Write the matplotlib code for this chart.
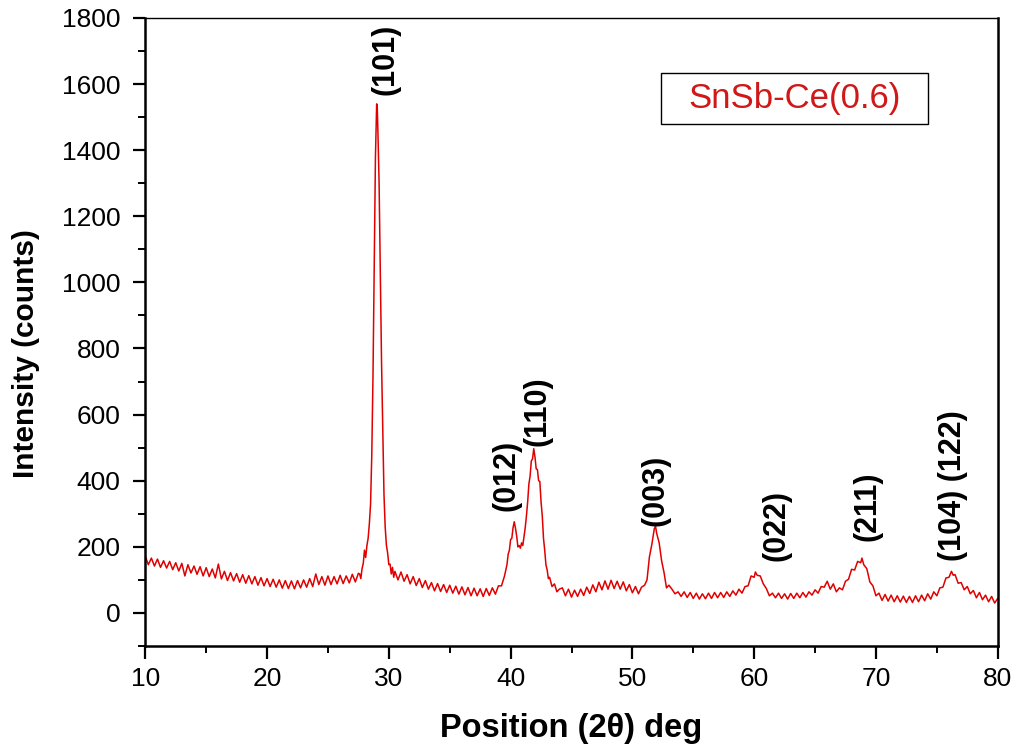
import numpy as np
import matplotlib.pyplot as plt
from matplotlib.patches import Rectangle
from matplotlib.ticker import MultipleLocator

plt.rcParams['font.family'] = ['Liberation Sans', 'DejaVu Sans']

# XRD pattern of SnSb-Ce(0.6), (2theta, counts) read in segments
bg_low = [(10.0, 172), (10.25, 146), (10.5, 166), (10.75, 142), (11.0, 163), (11.25, 138),
          (11.5, 158), (11.75, 136), (12.0, 156), (12.25, 131), (12.5, 152), (12.75, 127),
          (13.0, 150), (13.25, 112), (13.5, 146), (13.75, 121), (14.0, 142), (14.25, 117),
          (14.5, 140), (14.75, 112), (15.0, 137), (15.25, 110), (15.5, 133), (15.75, 106),
          (16.0, 148), (16.25, 103), (16.5, 126), (16.75, 98), (17.0, 122), (17.25, 97),
          (17.5, 119), (17.75, 93), (18.0, 116), (18.25, 90), (18.5, 113), (18.75, 88),
          (19.0, 110), (19.25, 84), (19.5, 107), (19.75, 82), (20.0, 104), (20.25, 80),
          (20.5, 102), (20.75, 78), (21.0, 100), (21.25, 75), (21.5, 98), (21.75, 74),
          (22.0, 97), (22.25, 73), (22.5, 98), (22.75, 76), (23.0, 100), (23.25, 78),
          (23.5, 104), (23.75, 80), (24.0, 118), (24.25, 86), (24.5, 110), (24.75, 84),
          (25.0, 112), (25.25, 86), (25.5, 110), (25.75, 88), (26.0, 114), (26.25, 89),
          (26.5, 112), (26.75, 91), (27.0, 117), (27.25, 94), (27.5, 120)]

peak_101 = [(27.6, 118), (27.7, 104), (27.8, 134), (27.9, 150), (28.0, 190), (28.1, 168),
            (28.2, 204), (28.3, 226), (28.4, 270), (28.5, 330), (28.6, 480), (28.7, 720),
            (28.8, 1060), (28.9, 1380), (29.0, 1540), (29.05, 1530), (29.1, 1460),
            (29.2, 1300), (29.3, 1040), (29.4, 760), (29.5, 560), (29.6, 360), (29.7, 260),
            (29.8, 205), (29.9, 182), (30.0, 146), (30.1, 148), (30.2, 118), (30.3, 138),
            (30.4, 108), (30.5, 126)]

bg_mid = [(30.75, 100), (31.0, 124), (31.25, 96), (31.5, 116), (31.75, 88), (32.0, 110),
          (32.25, 83), (32.5, 104), (32.75, 77), (33.0, 98), (33.25, 72), (33.5, 92),
          (33.75, 67), (34.0, 89), (34.25, 65), (34.5, 86), (34.75, 62), (35.0, 84),
          (35.25, 60), (35.5, 81), (35.75, 57), (36.0, 79), (36.25, 55), (36.5, 77),
          (36.75, 52), (37.0, 75), (37.25, 52), (37.5, 73), (37.75, 50), (38.0, 74),
          (38.25, 53), (38.5, 76), (38.75, 57), (39.0, 82), (39.25, 82), (39.5, 112)]

peaks_012_110 = [(39.7, 146), (39.8, 178), (39.9, 190), (40.0, 222), (40.1, 226), (40.2, 258),
                 (40.3, 276), (40.4, 256), (40.5, 232), (40.6, 200), (40.7, 204), (40.8, 196),
                 (40.9, 212), (41.0, 204), (41.1, 232), (41.2, 258), (41.3, 294), (41.4, 336),
                 (41.5, 390), (41.6, 414), (41.7, 460), (41.8, 466), (41.9, 497), (42.0, 472),
                 (42.1, 436), (42.2, 434), (42.3, 400), (42.4, 398), (42.5, 336), (42.6, 294),
                 (42.7, 226), (42.8, 190), (42.9, 146), (43.0, 130), (43.1, 104), (43.2, 108),
                 (43.4, 80), (43.6, 88), (43.8, 64), (44.0, 72)]

bg_hump = [(44.25, 76), (44.5, 52), (44.75, 72), (45.0, 48), (45.25, 69), (45.5, 50),
           (45.75, 72), (46.0, 53), (46.25, 78), (46.5, 59), (46.75, 85), (47.0, 64),
           (47.25, 93), (47.5, 70), (47.75, 97), (48.0, 72), (48.25, 99), (48.5, 74),
           (48.75, 96), (49.0, 72), (49.25, 94), (49.5, 67), (49.75, 86), (50.0, 61),
           (50.25, 80), (50.5, 58), (50.75, 78)]

peak_003 = [(51.0, 84), (51.2, 100), (51.4, 170), (51.6, 208), (51.8, 255), (51.9, 262),
            (52.0, 240), (52.2, 212), (52.4, 158), (52.6, 122), (52.8, 76), (53.0, 84)]

bg_high = [(53.25, 72), (53.5, 58), (53.75, 64), (54.0, 50), (54.25, 64), (54.5, 47),
           (54.75, 62), (55.0, 44), (55.25, 60), (55.5, 42), (55.75, 58), (56.0, 43),
           (56.25, 60), (56.5, 44), (56.75, 62), (57.0, 46), (57.25, 62), (57.5, 47),
           (57.75, 64), (58.0, 50), (58.25, 67), (58.5, 54), (58.75, 72), (59.0, 60),
           (59.25, 80), (59.5, 82), (59.75, 112), (60.0, 108), (60.1, 124), (60.25, 114),
           (60.5, 112), (60.75, 88), (61.0, 74), (61.25, 52), (61.5, 60), (61.75, 46),
           (62.0, 60), (62.25, 44), (62.5, 58), (62.75, 42), (63.0, 59), (63.25, 44),
           (63.5, 60), (63.75, 46), (64.0, 62), (64.25, 48), (64.5, 64), (64.75, 54),
           (65.0, 70), (65.25, 60), (65.5, 80), (65.75, 78), (66.0, 96), (66.25, 72),
           (66.5, 88), (66.75, 64), (67.0, 76), (67.25, 70), (67.5, 96), (67.75, 102),
           (68.0, 132), (68.25, 130), (68.5, 156), (68.75, 152), (68.85, 166), (69.0, 146),
           (69.25, 134), (69.5, 94), (69.75, 82), (70.0, 52), (70.25, 60), (70.5, 38),
           (70.75, 56), (71.0, 36), (71.25, 54), (71.5, 34), (71.75, 52), (72.0, 33),
           (72.25, 51), (72.5, 32), (72.75, 50), (73.0, 32), (73.25, 52), (73.5, 34),
           (73.75, 54), (74.0, 37), (74.25, 58), (74.5, 42), (74.75, 64), (75.0, 52),
           (75.25, 76), (75.5, 78), (75.75, 106), (76.0, 108), (76.2, 126), (76.35, 114),
           (76.5, 116), (76.75, 90), (77.0, 92), (77.25, 70), (77.5, 80), (77.75, 58),
           (78.0, 68), (78.25, 46), (78.5, 62), (78.75, 40), (79.0, 54), (79.25, 34),
           (79.5, 50), (79.75, 30), (80.0, 44)]

# Miller indices and where each label sits (2theta, counts at label base)
hkl_labels = ["(101)", "(012)", "(110)", "(003)", "(022)", "(211)", "(104) (122)"]
hkl_x = [29.7, 39.7, 42.2, 51.9, 61.8, 69.3, 76.3]
hkl_y = [1566, 309, 506, 264, 158, 218, 158]

pattern = np.array(bg_low + peak_101 + bg_mid + peaks_012_110 + bg_hump + peak_003 + bg_high)
two_theta, counts = pattern[:, 0], pattern[:, 1]

fig = plt.figure(figsize=(10.16, 7.46), dpi=100)
ax = fig.add_axes([0.143, 0.134, 0.839, 0.842])

ax.plot(two_theta, counts, color="#e00000", lw=1.1)

ax.set_xlim(10, 80)
ax.set_ylim(-100, 1800)
ax.xaxis.set_major_locator(MultipleLocator(10))
ax.xaxis.set_minor_locator(MultipleLocator(5))
ax.yaxis.set_major_locator(MultipleLocator(200))
ax.yaxis.set_minor_locator(MultipleLocator(100))
ax.tick_params(axis='both', which='major', direction='out', length=9, width=1.6,
               labelsize=19, top=False, right=False)
ax.tick_params(axis='x', which='major', pad=6)
ax.tick_params(axis='y', which='major', pad=9)
ax.tick_params(axis='both', which='minor', direction='out', length=5, width=1.4,
               top=False, right=False)
for side in ["left", "bottom", "right"]:
    ax.spines[side].set_linewidth(1.8)
ax.spines["top"].set_linewidth(1.0)

ax.set_xlabel("Position (2θ) deg", fontsize=23.5, fontweight="bold", labelpad=16)
ax.set_ylabel("Intensity (counts)", fontsize=21.5, fontweight="bold")
ax.yaxis.set_label_coords(-0.123, 0.465)

for lab, xp, yp in zip(hkl_labels, hkl_x, hkl_y):
    ax.text(xp, yp, lab, rotation=90, ha="center", va="bottom",
            fontsize=22, fontweight="bold")

# Sample name box
ax.add_patch(Rectangle((0.605, 0.831), 0.313, 0.081, transform=ax.transAxes,
                       fill=False, edgecolor="black", lw=1.0))
ax.text(0.7615, 0.8715, "SnSb-Ce(0.6)", transform=ax.transAxes, ha="center",
        va="center", fontsize=25, color="#d01818")

fig.savefig("out.png", dpi=100)
